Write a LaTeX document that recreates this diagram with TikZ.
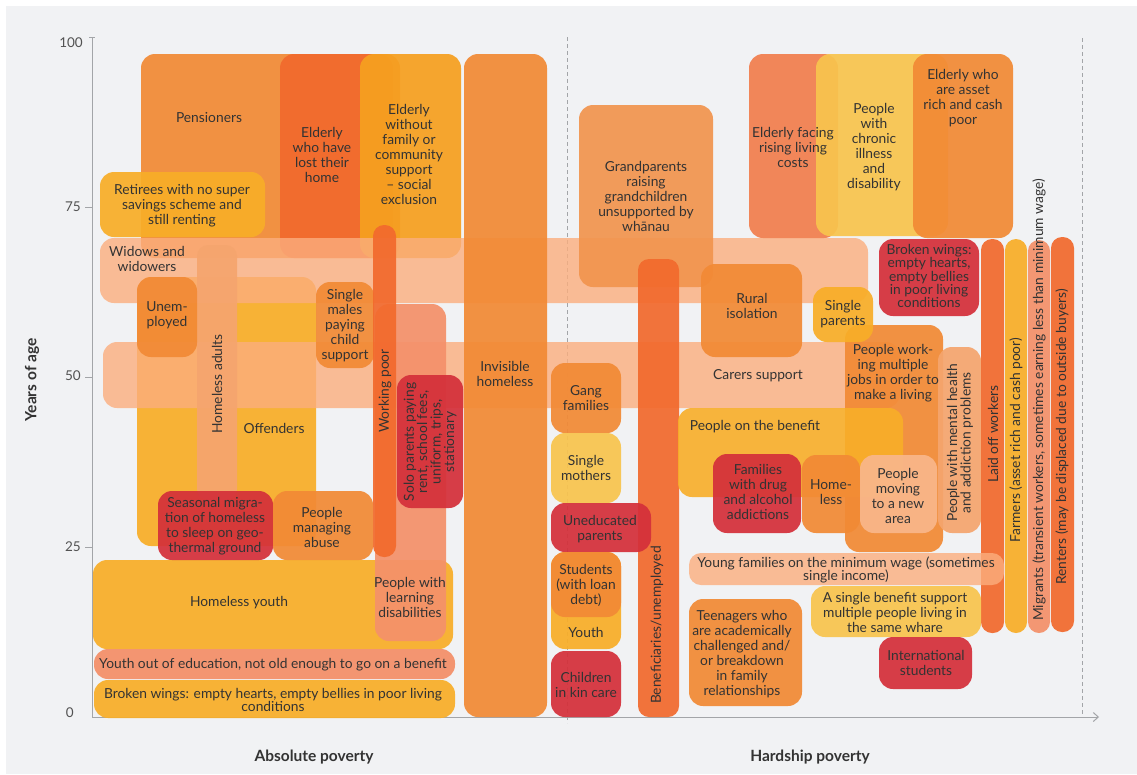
\documentclass[tikz,border=0pt]{standalone}
\usepackage{fontspec}
\setmainfont{Lato}
\usetikzlibrary{arrows.meta}

\definecolor{pBack}{HTML}{F1F2F4}
\definecolor{pAxis}{HTML}{A3A5A8}
\definecolor{pInk}{HTML}{333333}
\definecolor{pOrange}{HTML}{F28A35}
\definecolor{pRust}{HTML}{F26A2D}
\definecolor{pAmber}{HTML}{F8AE28}
\definecolor{pTangerine}{HTML}{F6A020}
\definecolor{pGold}{HTML}{F8C44E}
\definecolor{pRed}{HTML}{D4303A}
\definecolor{pPeach}{HTML}{FBAE7E}
\definecolor{pSalmon}{HTML}{F4916A}
\definecolor{pCoral}{HTML}{F27E4E}
\definecolor{pApricot}{HTML}{F5A56E}
\definecolor{pMelon}{HTML}{F2954F}
\definecolor{pLight}{HTML}{F9B68A}

\begin{document}
\begin{tikzpicture}[x=1pt,y=-1pt]
	\tikzset{
		blob/.style={rounded corners=14pt, fill opacity=0.93},
		bar/.style={rounded corners=11pt, fill opacity=0.93},
		band/.style={rounded corners=14pt, fill opacity=0.8},
		lbl/.style={align=center, inner sep=0pt, text=pInk, font=\fontsize{13.8}{15}\selectfont},
		tight/.style={lbl, font=\fontsize{13.8}{13.4}\selectfont},
		tick/.style={anchor=east, inner sep=0pt, text=pInk!85, font=\fontsize{13.5}{15}\selectfont},
		title/.style={inner sep=0pt, text=pInk, font=\fontsize{15.5}{17}\selectfont\bfseries}
	}
	\useasboundingbox (0,0) rectangle (1137,774);
	\fill[white] (0,0) rectangle (1137,774);
	\fill[pBack] (6,6) rectangle (1137,774);

	% axes, under the boxes
	\draw[pAxis, dashed, dash pattern=on 4pt off 3pt] (567,37) -- (567,723);
	\draw[pAxis, dashed, dash pattern=on 4pt off 3pt] (1082,38) -- (1082,717);
	\draw[pAxis, line width=1pt, -{Straight Barb[length=5pt, width=9pt]}] (92,37) -- (92,717) -- (1099,717);
	\draw[pAxis, line width=1pt] (89,37) -- (95,37);
	\foreach \yy in {207,377,547} \draw[pAxis, line width=1pt] (85,\yy) -- (92,\yy);

	% left side, older ages
	\fill[pOrange, blob] (141,54) rectangle (400,258);
	\fill[pRust, blob] (280,54) rectangle (393,258);
	\fill[pTangerine, blob] (360,54) rectangle (461,258);
	\fill[pAmber, blob] (100,172) rectangle (265,237);
	\fill[pAmber, blob] (137,277) rectangle (316,546);

	% the two wide bands
	\fill[pPeach, band] (100,238) rectangle (868,303);
	\fill[pPeach, band] (103,342) rectangle (900,408);

	\fill[pApricot, bar] (197,245) rectangle (237,500);
	\fill[pOrange, blob] (137,277) rectangle (197,357);
	\fill[pOrange, blob] (316,282) rectangle (374,368);
	\fill[pAmber, blob] (93,560) rectangle (453,649);
	\fill[pSalmon, blob] (375,304) rectangle (446,641);
	\fill[pRust, bar] (373,225) rectangle (396,557);
	\fill[pRed, blob] (397,375) rectangle (463,508);
	\fill[pRed, blob] (158,491) rectangle (273,560);
	\fill[pOrange, blob] (273,491) rectangle (373,560);
	\fill[pSalmon, band, fill opacity=0.95] (94,649) rectangle (455,679);
	\fill[pAmber, blob] (94,680) rectangle (455,718);

	% middle
	\fill[pOrange, blob] (464,54) rectangle (547,717);
	\fill[pMelon, blob] (579,105) rectangle (713,287);
	\fill[pRust, bar] (638,259) rectangle (679,717);
	\fill[pOrange, blob] (701,264) rectangle (802,357);
	\fill[pOrange, blob] (845,325) rectangle (943,552);
	\fill[pAmber, blob] (813,287) rectangle (873,342);
	\fill[pAmber, blob, fill opacity=0.9] (678,408) rectangle (903,497);
	\fill[pRed, blob] (713,454) rectangle (801,533);
	\fill[pOrange, blob] (802,455) rectangle (860,533);
	\fill[pLight, blob] (860,455) rectangle (937,533);
	\fill[pApricot, blob] (938,347) rectangle (981,533);
	\fill[pOrange, blob] (551,363) rectangle (621,433);
	\fill[pGold, blob] (551,433) rectangle (621,503);
	\fill[pRed, blob] (551,503) rectangle (651,552);
	\fill[pAmber, blob] (551,552) rectangle (621,649);
	\fill[pOrange, blob] (551,552) rectangle (621,617);
	\fill[pRed, blob] (551,651) rectangle (621,717);

	% right side
	\fill[pCoral, blob] (749,54) rectangle (838,238);
	\fill[pGold, blob] (816,54) rectangle (948,236);
	\fill[pOrange, blob] (913,54) rectangle (1013,238);
	\fill[pRed, blob] (879,239) rectangle (979,316);
	\fill[pRust, bar] (981,239) rectangle (1004,633);
	\fill[pAmber, bar] (1005,239) rectangle (1027,633);
	\fill[pSalmon, bar] (1028,240) rectangle (1050,633);
	\fill[pRust, bar] (1051,237) rectangle (1074,632);
	\fill[pPeach, band, rounded corners=12pt] (689,553) rectangle (1004,585);
	\fill[pGold, blob] (811,586) rectangle (981,637);
	\fill[pRed, blob] (879,637) rectangle (972,689);
	\fill[pOrange, blob] (689,599) rectangle (802,706);

	% axis texts
	\node[tick] (t100) at (83,43) {100};
	\node[tick] (t75) at (81,207) {75};
	\node[tick] (t50) at (81,376) {50};
	\node[tick] (t25) at (81,547) {25};
	\node[tick] (t0) at (74,713) {0};
	\node[title, rotate=90] (yaxis) at (32,380) {Years of age};
	\node[title] (absolute) at (314,757) {Absolute poverty};
	\node[title] (hardship) at (810,757) {Hardship poverty};

	% labels
	\node[lbl] (pensioners) at (209,118) {Pensioners};
	\node[lbl] (losthome) at (322,155) {Elderly\\who have\\lost their\\home};
	\node[lbl] (nofamily) at (409,154) {Elderly\\without\\family or\\community\\support\\-- social\\exclusion};
	\node[lbl] (retirees) at (182,206) {Retirees with no super\\savings scheme and\\still renting};
	\node[lbl] (widows) at (147,259) {Widows and\\widowers};
	\node[lbl] (unemployed) at (167,315) {Unem-\\ployed};
	\node[lbl, rotate=90] (homelessadults) at (217,384) {Homeless adults};
	\node[lbl] (offenders) at (274,428) {Offenders};
	\node[lbl] (singlemales) at (345,326) {Single\\males\\paying\\child\\support};
	\node[lbl, rotate=90] (workingpoor) at (385,391) {Working poor};
	\node[tight, rotate=90] (soloparents) at (430,442) {Solo parents paying\\rent, school fees,\\uniform, trips,\\stationary};
	\node[lbl] (invisible) at (505,374) {Invisible\\homeless};
	\node[lbl] (seasonal) at (215,526) {Seasonal migra-\\tion of homeless\\to sleep on geo-\\thermal ground};
	\node[lbl] (abuse) at (322,527) {People\\managing\\abuse};
	\node[lbl] (homelessyouth) at (239,603) {Homeless youth};
	\node[lbl] (learning) at (410,597) {People with\\learning\\disabilities};
	\node[lbl] (outofedu) at (273,665) {Youth out of education, not old enough to go on a benefit};
	\node[tight] (brokenleft) at (273,700) {Broken wings: empty hearts, empty bellies in poor living\\conditions};
	\node[lbl] (gang) at (586,398) {Gang\\families};
	\node[lbl] (mothers) at (586,468) {Single\\mothers};
	\node[lbl] (uneducated) at (600,529) {Uneducated\\parents};
	\node[lbl] (students) at (586,585) {Students\\(with loan\\debt)};
	\node[lbl] (youth) at (586,632) {Youth};
	\node[lbl] (kincare) at (586,685) {Children\\in kin care};
	\node[lbl, rotate=90] (beneficiaries) at (657,625) {Beneficiaries/unemployed};
	\node[lbl] (grandparents) at (646,196) {Grandparents\\raising\\grandchildren\\unsupported by\\whānau};
	\node[lbl] (carers) at (758,376) {Carers support};
	\node[lbl] (rural) at (752,306) {Rural\\isolation};
	\node[lbl] (singleparents) at (843,314) {Single\\parents};
	\node[lbl] (multijobs) at (893,373) {People work-\\ing multiple\\jobs in order to\\make a living};
	\node[lbl] (benefit) at (755,427) {People on the benefit};
	\node[lbl] (addictions) at (758,492) {Families\\with drug\\and alcohol\\addictions};
	\node[lbl] (homeless) at (831,492) {Home-\\less};
	\node[lbl] (moving) at (898,496) {People\\moving\\to a new\\area};
	\node[tight, rotate=90] (mental) at (960,443) {People with mental health\\and addiction problems};
	\node[tight] (youngfam) at (846,570) {Young families on the minimum wage (sometimes\\single income)};
	\node[lbl] (whare) at (895,612) {A single benefit support\\multiple people living in\\the same whare};
	\node[lbl] (teenagers) at (742,654) {Teenagers who\\are academically\\challenged and/\\or breakdown\\in family\\relationships};
	\node[lbl] (international) at (926,663) {International\\students};
	\node[lbl] (livingcosts) at (793,147) {Elderly facing\\rising living\\costs};
	\node[lbl] (chronic) at (874,147) {People\\with\\chronic\\illness\\and\\disability};
	\node[lbl] (assetrich) at (963,98) {Elderly who\\are asset\\rich and cash\\poor};
	\node[tight] (brokenright) at (929,276) {Broken wings:\\empty hearts,\\empty bellies\\in poor living\\conditions};
	\node[lbl, rotate=90] (laidoff) at (993,434) {Laid off workers};
	\node[lbl, rotate=90] (farmers) at (1016,440) {Farmers (asset rich and cash poor)};
	\node[lbl, rotate=90] (migrants) at (1039,400) {Migrants (transient workers, sometimes earning less than minimum wage)};
	\node[lbl, rotate=90] (renters) at (1062,437) {Renters (may be displaced due to outside buyers)};
\end{tikzpicture}
\end{document}
